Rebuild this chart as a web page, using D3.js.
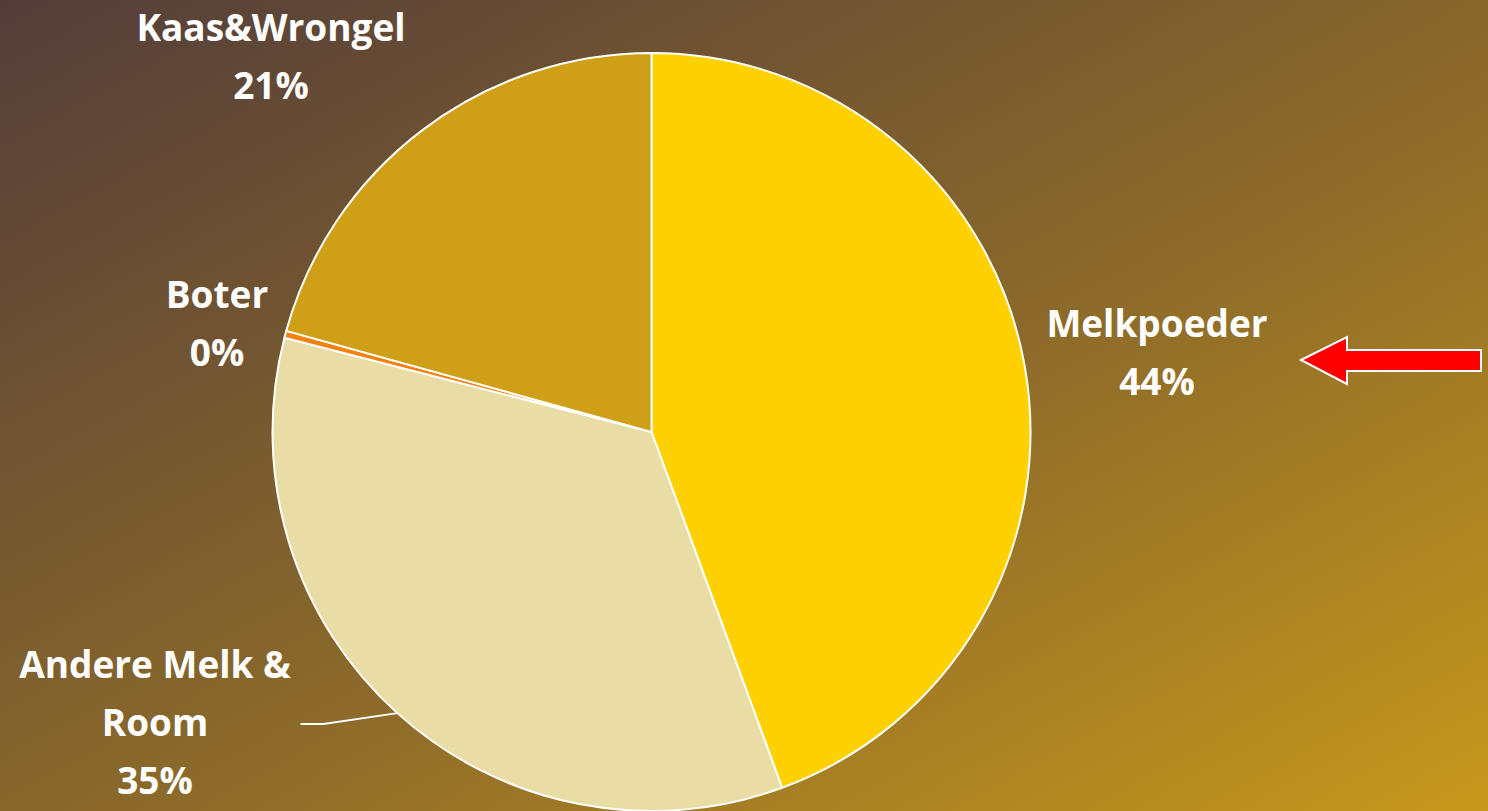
<!DOCTYPE html>
<html>
<head>
<meta charset="utf-8">
<script src="https://cdn.jsdelivr.net/npm/d3@7"></script>
<style>
  html, body { margin: 0; padding: 0; }
  body { width: 1488px; height: 811px; overflow: hidden; }
</style>
</head>
<body>
<div id="chart"></div>
<script>
// Data, clockwise from 12 o'clock
const categories = ["Melkpoeder", "Andere Melk & Room", "Boter", "Kaas&Wrongel"];
const shares = [44.4, 34.6, 0.3, 20.7];
const colors = ["#ffd100", "#e9dca5", "#f5820f", "#cf9f17"];

// Label text lines and where Excel put them (baseline, offset from pie centre)
const labelLines = [["Melkpoeder"], ["Andere Melk &", "Room"], ["Boter"], ["Kaas&Wrongel"]];
const labelOffsets = [[505.5, -95], [-496.5, 246], [-434.5, -124], [-380.5, -391]];

const width = 1488;
const height = 811;
const cx = 651.5, cy = 432, radius = 379;

const svg = d3.select("#chart")
  .append("svg")
  .attr("width", width)
  .attr("height", height);

// Background gradient
const defs = svg.append("defs");
const grad = defs.append("linearGradient")
  .attr("id", "bg")
  .attr("x1", "0%").attr("y1", "0%")
  .attr("x2", "100%").attr("y2", "100%");
grad.append("stop").attr("offset", "0%").attr("stop-color", "#533d3a");
grad.append("stop").attr("offset", "55%").attr("stop-color", "#8c6a2a");
grad.append("stop").attr("offset", "100%").attr("stop-color", "#c6981c");

svg.append("rect")
  .attr("width", width)
  .attr("height", height)
  .attr("fill", "url(#bg)");

const pie = d3.pie().sort(null).value(d => d);
const arcs = pie(shares);
const arc = d3.arc().innerRadius(0).outerRadius(radius);

const g = svg.append("g").attr("transform", `translate(${cx},${cy})`);

g.selectAll("path.slice")
  .data(arcs)
  .enter()
  .append("path")
  .attr("class", "slice")
  .attr("d", arc)
  .attr("fill", (d, i) => colors[i])
  .attr("stroke", "#ffffff")
  .attr("stroke-width", 2)
  .attr("stroke-linejoin", "round");

const total = d3.sum(shares);
const fmt = d3.format(".0%");
const lineH = 58;

// Leader line for "Andere Melk & Room", from the arc at the slice's mid angle
const a1 = arcs[1];
const mid = (a1.startAngle + a1.endAngle) / 2;
const ax = Math.sin(mid) * radius;
const ay = -Math.cos(mid) * radius;
g.append("path")
  .attr("d", d3.line()([[ax, ay], [-328, 292], [-351, 292]]))
  .attr("fill", "none")
  .attr("stroke", "#ffffff")
  .attr("stroke-width", 2);

// Labels
const labels = g.selectAll("text.label")
  .data(arcs)
  .enter()
  .append("text")
  .attr("class", "label")
  .attr("text-anchor", "middle")
  .attr("fill", "#ffffff")
  .style("font-family", "'Open Sans', Lato, sans-serif")
  .style("font-weight", "bold")
  .style("font-size", "37px");

labels.each(function(d, i) {
  const lines = labelLines[i].concat([fmt(shares[i] / total)]);
  const [ox, oy] = labelOffsets[i];
  const sel = d3.select(this);
  lines.forEach((t, k) => {
    sel.append("tspan")
      .attr("x", ox)
      .attr("y", oy + k * lineH)
      .text(t);
  });
});

// Red arrow pointing at Melkpoeder
const arrow = [[1301, 360], [1347, 337], [1347, 350], [1481, 350], [1481, 371], [1347, 371], [1347, 384]];
svg.append("path")
  .attr("d", d3.line()(arrow) + "Z")
  .attr("fill", "#ff0000")
  .attr("stroke", "#ffffff")
  .attr("stroke-width", 2)
  .attr("stroke-linejoin", "miter");
</script>
</body>
</html>
